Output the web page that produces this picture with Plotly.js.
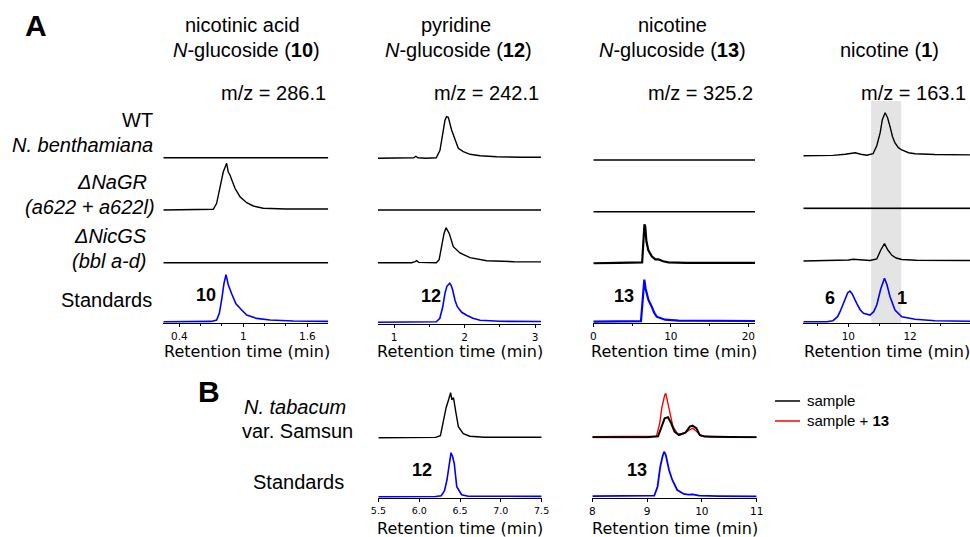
<!DOCTYPE html>
<html><head><meta charset="utf-8">
<script src="https://cdn.plot.ly/plotly-3.0.1.min.js"></script>
<style>html,body{margin:0;padding:0;background:#fff}#chart{width:970px;height:537px}</style>
</head><body><div id="chart"></div>
<script>
// ---------------- DATA (retention time in min, relative intensity) ----------------
// Panel A, column 1: nicotinic acid N-glucoside (10), m/z 286.1
const a1_wt_t    = [0.25, 0.8, 1.3, 1.797];
const a1_wt_y    = [0, 0, 0, 0];
const a1_nagr_t  = [0.25, 0.6, 0.719, 0.75, 0.781, 0.812, 0.844, 0.859, 0.875, 0.922, 0.969, 1.032, 1.094, 1.187, 1.4, 1.6, 1.797];
const a1_nagr_y  = [0, 0, 0.7, 6.7, 23.3, 38, 46.7, 38, 35, 21.7, 13.3, 7.3, 4, 1.7, 1, 0.8, 1];
const a1_nicgs_t = [0.25, 0.8, 1.3, 1.797];
const a1_nicgs_y = [0, 0, 0, 0];
const a1_std_t   = [0.25, 0.5, 0.7, 0.75, 0.775, 0.797, 0.819, 0.838, 0.859, 0.891, 0.931, 0.985, 1.032, 1.125, 1.25, 1.47, 1.797];
const a1_std_y   = [0, 0, 0.3, 1.7, 8.3, 21.7, 38.3, 47, 37, 28, 18, 11.7, 6.7, 3.3, 1.7, 0.7, 0.3];

// Panel A, column 2: pyridine N-glucoside (12), m/z 242.1
const a2_wt_t    = [0.773, 1.2, 1.28, 1.31, 1.34, 1.45, 1.6, 1.652, 1.69, 1.723, 1.745, 1.77, 1.818, 1.865, 1.912, 1.983, 2.078, 2.22, 2.457, 2.8, 3.085];
const a2_wt_y    = [0, 0, 0.5, 2, 0.5, 0, 0.5, 8, 25, 38, 41.6, 41, 28, 18, 10, 6.7, 4, 2.5, 1.5, 1, 1];
const a2_nagr_t  = [0.773, 1.5, 2.3, 3.085];
const a2_nagr_y  = [0, 0, 0, 0];
const a2_nicgs_t = [0.773, 1.25, 1.3, 1.322, 1.35, 1.6, 1.64, 1.677, 1.709, 1.738, 1.785, 1.841, 1.936, 2.078, 2.315, 2.7, 3.085];
const a2_nicgs_y = [0, 0, 1, 2, 0.3, 0, 3, 16, 29, 35, 29, 16, 9.7, 5, 2, 1, 0.8];
const a2_std_t   = [0.773, 1.4, 1.6, 1.65, 1.69, 1.723, 1.75, 1.79, 1.81, 1.833, 1.865, 1.898, 1.96, 2.031, 2.12, 2.22, 2.5, 3.085];
const a2_std_y   = [0, 0, 0.5, 4, 15, 29, 36, 39, 37, 32, 22, 15.6, 10, 7, 4, 2, 1, 0.8];

// Panel A, column 3: nicotine N-glucoside (13), m/z 325.2
const a3_wt_t    = [0, 7, 14, 20.86];
const a3_wt_y    = [0, 0, 0, 0];
const a3_nagr_t  = [0, 7, 14, 20.86];
const a3_nagr_y  = [0, 0, 0, 0];
const a3_nicgs_t = [0, 3, 6.2, 6.3, 6.45, 6.6, 6.7, 6.85, 7.1, 7.54, 8.0, 8.39, 9.0, 9.68, 12, 20.86];
const a3_nicgs_y = [0, 0.5, 0.5, 1, 20, 39, 37, 22, 13, 7, 4, 4, 2, 1, 0.5, 0.5];
const a3_std_t   = [0, 6.0, 6.15, 6.3, 6.45, 6.58, 6.75, 7.1, 7.54, 7.85, 8.18, 9.25, 11, 20.86];
const a3_std_y   = [0, 0, 0.5, 15, 35, 42, 33, 22, 15, 9, 5, 2, 1, 0.7];

// Panel A, column 4: nicotine (1), m/z 163.1
const a4_wt_t    = [8.54, 9.5, 9.9, 10.1, 10.22, 10.4, 10.6, 10.8, 10.92, 11.03, 11.1, 11.19, 11.27, 11.35, 11.43, 11.51, 11.62, 11.73, 11.95, 12.16, 12.8, 13.94];
const a4_wt_y    = [0, 0.3, 1.5, 2.8, 3, 1.5, 0.5, 2, 10, 23, 36, 43, 38, 29, 19, 12.7, 8, 5.7, 3, 2, 1.2, 0.8];
const a4_nagr_t  = [8.54, 10, 12, 13.94];
const a4_nagr_y  = [0, 0, 0, 0];
const a4_nicgs_t = [8.54, 9.6, 10.0, 10.16, 10.4, 10.7, 10.92, 11.05, 11.17, 11.28, 11.41, 11.55, 11.73, 12.2, 13.94];
const a4_nicgs_y = [0, 0.3, 1, 1.8, 1, 0.5, 2, 11, 17.4, 11, 5.7, 3, 1.5, 0.8, 0.5];
const a4_std_t   = [8.54, 9.3, 9.5, 9.65, 9.73, 9.89, 9.98, 10.05, 10.12, 10.27, 10.38, 10.49, 10.7, 10.82, 10.92, 11.05, 11.17, 11.25, 11.35, 11.51, 11.73, 12.16, 12.81, 13.94];
const a4_std_y   = [0, 0, 1, 5, 10, 22, 29, 30.7, 28, 18.4, 12, 8.4, 6.7, 10, 16.7, 33, 43.4, 37, 25, 11.7, 5, 2.4, 1, 0.5];
const a4_band    = [10.74, 11.71];   // highlighted retention window

// Panel B, column 1: pyridine N-glucoside (12)
const b1_sample_t = [5.5, 6.0, 6.2, 6.26, 6.3, 6.33, 6.36, 6.385, 6.40, 6.42, 6.45, 6.48, 6.54, 6.62, 6.8, 7.5];
const b1_sample_y = [0, 0, 0.3, 2, 20, 30, 38, 45, 38, 40, 25, 11, 4, 1.5, 0.5, 0.5];
const b1_std_t    = [5.5, 6.0, 6.2, 6.27, 6.31, 6.34, 6.37, 6.39, 6.41, 6.43, 6.46, 6.52, 6.6, 7.5];
const b1_std_y    = [0, 0, 0.2, 1, 6, 16.7, 36.7, 44, 40, 33, 10, 2, 0.5, 0.3];

// Panel B, column 2: nicotine N-glucoside (13)
const b2_spike_t  = [8, 9.0, 9.17, 9.23, 9.27, 9.32, 9.34, 9.38, 9.43, 9.47, 9.56, 9.68, 9.77, 9.83, 9.90, 9.99, 10.2, 11];
const b2_spike_y  = [0.5, 0.5, 1, 14, 30, 42, 44, 34, 20.7, 11, 3, 4, 7.3, 9, 6, 1.3, 0.3, 0];
const b2_sample_t = [8, 9.0, 9.2, 9.26, 9.32, 9.38, 9.44, 9.50, 9.58, 9.70, 9.78, 9.83, 9.90, 9.96, 10.05, 10.5, 11];
const b2_sample_y = [0, 0, 1, 10.7, 19, 20, 14, 5.7, 2.3, 4.7, 10.7, 11.6, 9, 2.3, 0.7, 0.3, 0];
const b2_std_t    = [8, 9.0, 9.13, 9.19, 9.24, 9.28, 9.31, 9.34, 9.36, 9.40, 9.46, 9.55, 9.67, 9.75, 9.83, 9.95, 10.3, 11];
const b2_std_y    = [0.5, 0.5, 1, 10, 30, 40, 45, 42, 36.7, 26.7, 16.7, 6.7, 2.7, 2, 2.3, 1, 0.5, 0.3];

// Text
const colTitlesA = [["nicotinic acid", "<i>N</i>-glucoside (<b>10</b>)"], ["pyridine", "<i>N</i>-glucoside (<b>12</b>)"], ["nicotine", "<i>N</i>-glucoside (<b>13</b>)"], ["", "nicotine (<b>1</b>)"]];
const mzLabels = ["m/z = 286.1", "m/z = 242.1", "m/z = 325.2", "m/z = 163.1"];
const axisTitle = "Retention time (min)";

// ---------------- LAYOUT HELPERS ----------------
const W = 970, H = 537;
const PX = p => p / W, PY = p => 1 - p / H;
const BLACK = '#000000', BLUE = '#0000ff', RED = '#ff0000';
const TXT = 'Liberation Sans, Arial, sans-serif';
const AXF = 'DejaVu Sans, Verdana, sans-serif';

const traces = [];
const layout = {
  width: W, height: H, margin: {l: 0, r: 0, t: 0, b: 0},
  paper_bgcolor: '#fff', plot_bgcolor: 'rgba(0,0,0,0)', showlegend: false,
  annotations: [], shapes: []
};
const xName = i => i === 1 ? 'x' : 'x' + i, xKey = i => i === 1 ? 'xaxis' : 'xaxis' + i;
const yName = i => i === 1 ? 'y' : 'y' + i, yKey = i => i === 1 ? 'yaxis' : 'yaxis' + i;
const PAD = 1.3, TOP = 58;

let yCount = 0;
function addColumn(xi, dom, range, tickOpts, rows) {
  const yIds = [];
  rows.forEach(r => {
    yCount++;
    const yi = yCount;
    yIds.push(yi);
    layout[yKey(yi)] = {domain: [PY(r.base + PAD), PY(r.base - TOP)], range: [-PAD, TOP], visible: false, anchor: xName(xi), fixedrange: true};
    r.lines.forEach(l => traces.push({x: l.t, y: l.y, xaxis: xName(xi), yaxis: yName(yi), type: 'scatter', mode: 'lines', line: {color: l.c, width: l.w || 1.4}, hoverinfo: 'skip'}));
  });
  layout[xKey(xi)] = Object.assign({
    domain: [PX(dom[0]), PX(dom[1])], range: range, anchor: yName(yIds[yIds.length - 1]),
    showline: true, linecolor: BLACK, linewidth: 1.3, ticks: 'outside', ticklen: 3, tickwidth: 1, tickcolor: BLACK,
    ticklabelstandoff: 0,
    showgrid: false, zeroline: false, tickfont: {family: AXF, size: 10.5, color: BLACK}
  }, tickOpts);
}

// Panel A columns
addColumn(1, [163.3, 328.3], [0.25, 1.797], {tick0: 0.4, dtick: 0.6, minor: {ticks: 'outside', ticklen: 2, dtick: 0.2, tick0: 0.4, tickcolor: BLACK}}, [
  {base: 157.7, lines: [{t: a1_wt_t, y: a1_wt_y, c: BLACK}]},
  {base: 210, lines: [{t: a1_nagr_t, y: a1_nagr_y, c: BLACK}]},
  {base: 262.7, lines: [{t: a1_nicgs_t, y: a1_nicgs_y, c: BLACK}]},
  {base: 321.7, lines: [{t: a1_std_t, y: a1_std_y, c: BLUE, w: 1.6}]}
]);
addColumn(2, [378, 541], [0.773, 3.085], {tick0: 1, dtick: 1, minor: {ticks: 'outside', ticklen: 2, dtick: 0.5, tick0: 1, tickcolor: BLACK}}, [
  {base: 158.3, lines: [{t: a2_wt_t, y: a2_wt_y, c: BLACK}]},
  {base: 210, lines: [{t: a2_nagr_t, y: a2_nagr_y, c: BLACK}]},
  {base: 262.7, lines: [{t: a2_nicgs_t, y: a2_nicgs_y, c: BLACK}]},
  {base: 322.3, lines: [{t: a2_std_t, y: a2_std_y, c: BLUE, w: 1.6}]}
]);
addColumn(3, [593.3, 755], [0, 20.86], {tick0: 0, dtick: 10, minor: {ticks: 'outside', ticklen: 2, dtick: 5, tick0: 0, tickcolor: BLACK}}, [
  {base: 160, lines: [{t: a3_wt_t, y: a3_wt_y, c: BLACK}]},
  {base: 211.7, lines: [{t: a3_nagr_t, y: a3_nagr_y, c: BLACK}]},
  {base: 263.3, lines: [{t: a3_nicgs_t, y: a3_nicgs_y, c: BLACK, w: 2.2}]},
  {base: 321.7, lines: [{t: a3_std_t, y: a3_std_y, c: BLUE, w: 2.2}]}
]);
addColumn(4, [803.3, 970], [8.54, 13.94], {tick0: 10, dtick: 2, minor: {ticks: 'outside', ticklen: 2, dtick: 1, tick0: 10, tickcolor: BLACK}}, [
  {base: 155.7, lines: [{t: a4_wt_t, y: a4_wt_y, c: BLACK}]},
  {base: 208.3, lines: [{t: a4_nagr_t, y: a4_nagr_y, c: BLACK, w: 1.8}]},
  {base: 261, lines: [{t: a4_nicgs_t, y: a4_nicgs_y, c: BLACK}]},
  {base: 321.7, lines: [{t: a4_std_t, y: a4_std_y, c: BLUE, w: 1.6}]}
]);
// Panel B columns
addColumn(5, [378.3, 541.7], [5.499, 7.501], {tick0: 5.5, dtick: 0.5, tickformat: '.1f', tickfont: {family: AXF, size: 9.5, color: BLACK}}, [
  {base: 437.7, lines: [{t: b1_sample_t, y: b1_sample_y, c: BLACK}]},
  {base: 496.7, lines: [{t: b1_std_t, y: b1_std_y, c: BLUE, w: 1.6}]}
]);
addColumn(6, [592.3, 756.7], [7.999, 11.001], {tick0: 8, dtick: 1, tickfont: {family: AXF, size: 10.5, color: BLACK}}, [
  {base: 437.3, lines: [{t: b2_spike_t, y: b2_spike_y, c: RED, w: 1.4}, {t: b2_sample_t, y: b2_sample_y, c: BLACK, w: 2}]},
  {base: 496.7, lines: [{t: b2_std_t, y: b2_std_y, c: BLUE, w: 1.8}]}
]);

// Highlight band in nicotine column
layout.shapes.push({type: 'rect', xref: 'x4', yref: 'paper', x0: a4_band[0], x1: a4_band[1], y0: PY(323), y1: PY(101), fillcolor: '#e4e4e4', line: {width: 0}, layer: 'below'});

// Annotations
function ann(text, x, y, o) {
  layout.annotations.push(Object.assign({text: text, x: PX(x), y: PY(y), xref: 'paper', yref: 'paper', showarrow: false, xanchor: 'center', yanchor: 'middle', font: {family: TXT, size: 20, color: BLACK}}, o || {}));
}
const colCentersA = [242, 456, 672, 889];
const colCentersA2 = [247, 458, 672, 889];
colTitlesA.forEach((t, i) => { if (t[0]) ann(t[0], colCentersA[i], 25); ann(t[1], colCentersA2[i], 50); });
const mzRight = [328, 541, 755, 968];
mzLabels.forEach((t, i) => ann(t, mzRight[i], 93, {xanchor: 'right'}));
// axis titles
[247, 459.5, 674, 887].forEach(c => ann(axisTitle, c, 351, {font: {family: AXF, size: 16, color: BLACK}}));
[460, 674.5].forEach(c => ann(axisTitle, c, 528.5, {font: {family: AXF, size: 16, color: BLACK}}));
// panel letters
ann('<b>A</b>', 36, 25, {font: {family: TXT, size: 30, color: BLACK}});
ann('<b>B</b>', 209, 391, {font: {family: TXT, size: 30, color: BLACK}});
// row labels
ann('WT', 155, 120, {xanchor: 'right'});
ann('<i>N. benthamiana</i>', 155, 145, {xanchor: 'right'});
ann('<i>ΔNaGR</i>', 149, 182, {xanchor: 'right'});
ann('<i>(a622 + a622l)</i>', 157, 207, {xanchor: 'right'});
ann('<i>ΔNicGS</i>', 149, 236, {xanchor: 'right'});
ann('<i>(bbl a-d)</i>', 148, 261, {xanchor: 'right'});
ann('Standards', 154, 300, {xanchor: 'right'});
ann('<i>N. tabacum</i>', 295, 407);
ann('var. Samsun', 297, 431);
ann('Standards', 298, 482);
// peak labels
const pk = {family: TXT, size: 18, color: BLACK};
ann('<b>10</b>', 205.5, 295, {font: pk});
ann('<b>12</b>', 431, 295.5, {font: pk});
ann('<b>13</b>', 624, 296, {font: pk});
ann('<b>6</b>', 830, 297.5, {font: pk});
ann('<b>1</b>', 902, 297.5, {font: pk});
ann('<b>12</b>', 422, 469.5, {font: pk});
ann('<b>13</b>', 637, 469.5, {font: pk});
// legend (manual)
layout.shapes.push({type: 'line', xref: 'paper', yref: 'paper', x0: PX(775), x1: PX(800), y0: PY(401), y1: PY(401), line: {color: BLACK, width: 1.5}});
layout.shapes.push({type: 'line', xref: 'paper', yref: 'paper', x0: PX(775), x1: PX(800), y0: PY(421), y1: PY(421), line: {color: RED, width: 1.5}});
ann('sample', 805, 400, {xanchor: 'left', font: {family: TXT, size: 15, color: BLACK}});
ann('sample + <b>13</b>', 805, 420, {xanchor: 'left', font: {family: TXT, size: 15, color: BLACK}});

Plotly.newPlot('chart', traces, layout, {staticPlot: true, displayModeBar: false});
</script>
</body></html>
